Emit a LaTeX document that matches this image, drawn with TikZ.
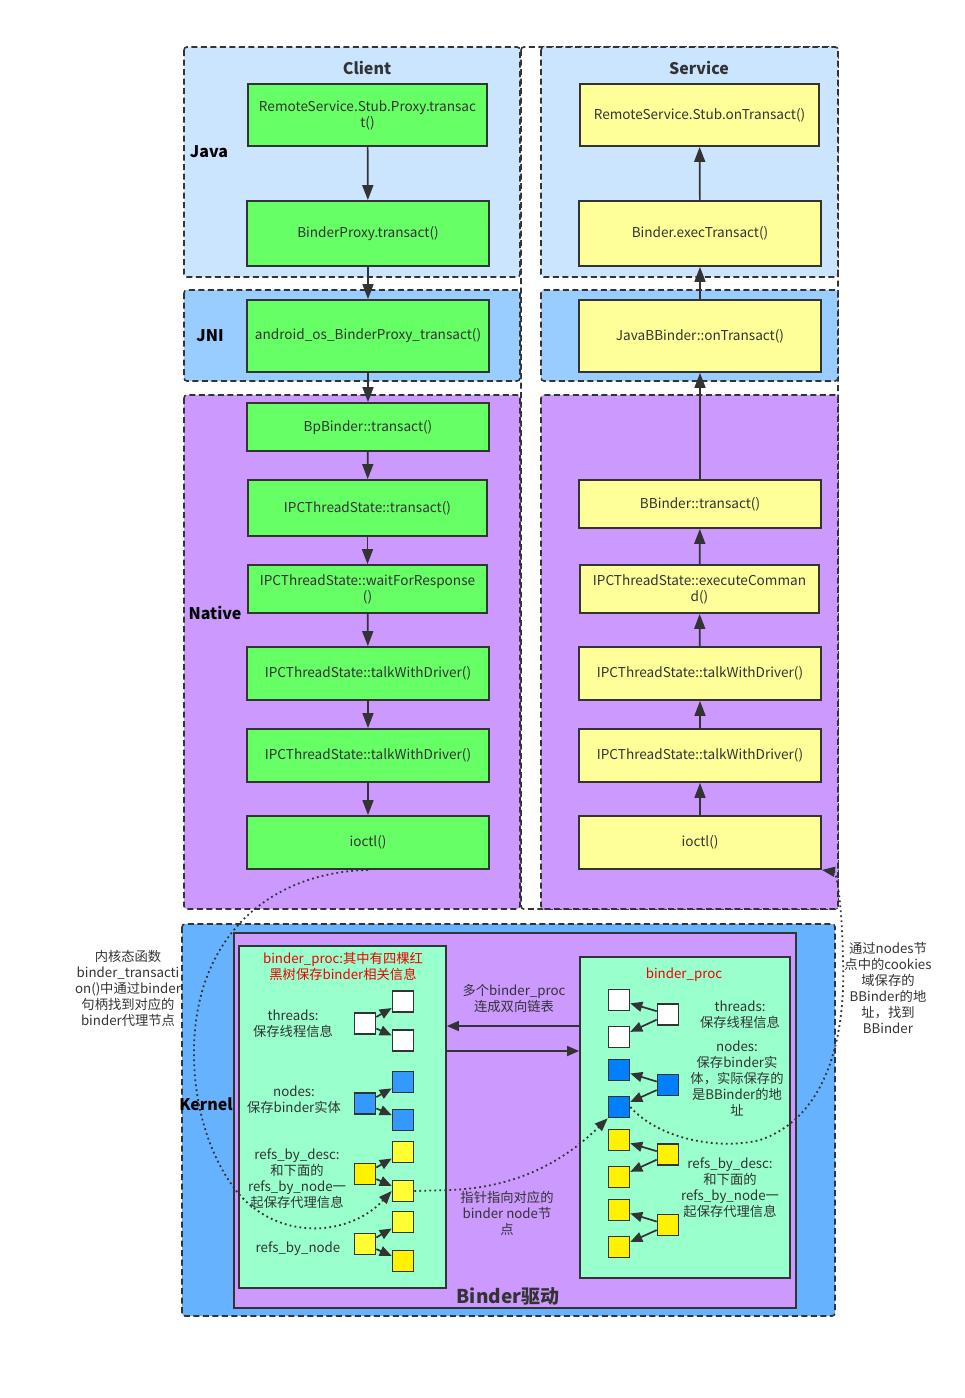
\documentclass[tikz,border=0pt]{standalone}
\usepackage{fontspec}
\setmainfont{Noto Sans CJK SC}
\usetikzlibrary{arrows.meta}
\definecolor{dk}{HTML}{333333}
\definecolor{javabg}{HTML}{CCE5FF}
\definecolor{jnibg}{HTML}{99CCFF}
\definecolor{natbg}{HTML}{CC99FF}
\definecolor{kerbg}{HTML}{66B2FF}
\definecolor{gfill}{HTML}{66FF66}
\definecolor{yfill}{HTML}{FFFF99}
\definecolor{mint}{HTML}{99FFCC}
\definecolor{sqblue}{HTML}{3399FF}
\definecolor{sqblue2}{HTML}{007FFF}
\definecolor{sqyel}{HTML}{FFFF33}
\definecolor{redtxt}{HTML}{EE0000}
\begin{document}
\begin{tikzpicture}[x=1pt,y=-1pt,
  txt/.style={font=\fontsize{13.3}{16}\selectfont, text=dk, align=center},
  region/.style={draw=dk, line width=1.6pt, dash pattern=on 6pt off 3.5pt, rounded corners=3pt},
  cbox/.style={draw=dk, line width=1.8pt, fill=gfill, txt, font=\fontsize{13.6}{16}\selectfont, inner sep=0pt},
  sbox/.style={draw=dk, line width=1.8pt, fill=yfill, txt, font=\fontsize{13.6}{16}\selectfont, inner sep=0pt},
  sq/.style={draw=dk, line width=1.6pt, minimum size=21pt, inner sep=0pt},
  arr/.style={draw=dk, line width=1.7pt, -{Triangle[length=15pt,width=11pt]}},
  sarr/.style={draw=dk, line width=1.7pt, -{Triangle[length=12pt,width=10pt]}},
  dots/.style={draw=dk, line width=1.8pt, dash pattern=on 1.8pt off 3.2pt, -{Triangle[length=13pt,width=10pt]}},
  lbl/.style={font=\bfseries\fontsize{16}{19}\selectfont, text=black},
  ttl/.style={font=\bfseries\fontsize{16}{19}\selectfont, text=dk},
]
\useasboundingbox (0,0) rectangle (965,1398);

% ---------- upper regions ----------
\draw[region, fill=white] (521,47) rectangle (838,909);
\draw[region, fill=javabg] (184,47) rectangle (520,277);
\draw[region, fill=javabg] (541,47) rectangle (838,277);
\draw[region, fill=jnibg] (184,290) rectangle (520,381);
\draw[region, fill=jnibg] (541,290) rectangle (838,381);
\draw[region, fill=natbg] (184,395) rectangle (520,909);
\draw[region, fill=natbg] (541,395) rectangle (838,909);

\node[ttl] (tclient) at (367,68) {Client};
\node[ttl] (tservice) at (699,68) {Service};
\node[lbl] (ljava) at (209,152) {Java};
\node[lbl] (ljni) at (210,336) {JNI};
\node[lbl] (lnative) at (215,613) {Native};

% ---------- client boxes ----------
\node[cbox, line width=2.4pt, minimum width=239pt, minimum height=62pt] (c1) at (367.5,115) {RemoteService.Stub.Proxy.transac\\t()};
\node[cbox, minimum width=242pt, minimum height=65pt] (c2) at (368,233.5) {BinderProxy.transact()};
\node[cbox, minimum width=242pt, minimum height=72pt] (c3) at (368,336) {android\_os\_BinderProxy\_transact()};
\node[cbox, minimum width=242pt, minimum height=48pt] (c4) at (368,427) {BpBinder::transact()};
\node[cbox, minimum width=239pt, minimum height=56pt] (c5) at (367.5,508) {IPCThreadState::transact()};
\node[cbox, minimum width=239pt, minimum height=48pt] (c6) at (367.5,589) {IPCThreadState::waitForResponse\\()};
\node[cbox, minimum width=242pt, minimum height=53pt] (c7) at (368,673.5) {IPCThreadState::talkWithDriver()};
\node[cbox, minimum width=242pt, minimum height=53pt] (c8) at (368,755.5) {IPCThreadState::talkWithDriver()};
\node[cbox, minimum width=242pt, minimum height=53pt] (c9) at (368,842.5) {ioctl()};

\foreach \a/\b in {c1/c2,c2/c3,c3/c4,c4/c5,c5/c6,c6/c7,c7/c8,c8/c9}
  \draw[arr] (\a) -- (\b);

% ---------- service boxes ----------
\node[sbox, minimum width=239pt, minimum height=62pt] (s1) at (699.5,115) {RemoteService.Stub.onTransact()};
\node[sbox, minimum width=242pt, minimum height=65pt] (s2) at (700,233.5) {Binder.execTransact()};
\node[sbox, minimum width=242pt, minimum height=72pt] (s3) at (700,336) {JavaBBinder::onTransact()};
\node[sbox, minimum width=242pt, minimum height=48pt] (s4) at (700,504) {BBinder::transact()};
\node[sbox, minimum width=239pt, minimum height=48pt] (s5) at (699.5,589) {IPCThreadState::executeComman\\d()};
\node[sbox, minimum width=242pt, minimum height=53pt] (s6) at (700,673.5) {IPCThreadState::talkWithDriver()};
\node[sbox, minimum width=242pt, minimum height=53pt] (s7) at (700,755.5) {IPCThreadState::talkWithDriver()};
\node[sbox, minimum width=242pt, minimum height=53pt] (s8) at (700,842.5) {ioctl()};

\foreach \a/\b in {s2/s1,s3/s2,s4/s3,s5/s4,s6/s5,s7/s6,s8/s7}
  \draw[arr] (\a) -- (\b);

% ---------- side annotations ----------
\node[txt] (noteL) at (128,988) {内核态函数\\binder\_transacti\\on()中通过binder\\句柄找到对应的\\binder代理节点};
\node[txt] (noteR) at (888,988) {通过nodes节\\点中的cookies\\域保存的\\BBinder的地\\址，找到\\BBinder};

% ---------- kernel ----------
\draw[region, fill=kerbg] (182,924) rectangle (835,1316);
\draw[draw=dk, line width=1.8pt, fill=natbg] (234,933) rectangle (796,1308);
\node[draw=dk, line width=1.8pt, fill=mint, minimum width=207pt, minimum height=342pt, inner sep=0pt] (lg) at (342.5,1117) {};
\node[draw=dk, line width=1.8pt, fill=mint, minimum width=210pt, minimum height=321pt, inner sep=0pt] (rg) at (685,1117.5) {};
\node[lbl] (lkernel) at (206,1104) {Kernel};
\node[ttl, font=\bfseries\fontsize{19}{22}\selectfont] (ldrv) at (508,1296) {Binder驱动};

% links between procs
\coordinate (ya) at (0,1026);
\coordinate (yb) at (0,1051);
\draw[sarr] (rg.west |- ya) -- (lg.east |- ya);
\draw[sarr] (lg.east |- yb) -- (rg.west |- yb);
\node[txt] (tlink) at (514,998) {多个binder\_proc\\连成双向链表};
\node[txt] (tptr) at (507,1213) {指针指向对应的\\binder node节\\点};

% left proc texts
\node[txt, text=redtxt] (lp) at (343,966) {binder\_proc:其中有四棵红\\黑树保存binder相关信息};
\node[txt] (lt1) at (293,1024) {threads:\\保存线程信息};
\node[txt] (lt2) at (294,1100) {nodes:\\保存binder实体};
\node[txt] (lt3) at (297,1179) {refs\_by\_desc:\\和下面的\\refs\_by\_node一\\起保存代理信息};
\node[txt] (lt4) at (298,1249) {refs\_by\_node};

% left squares
\node[sq, fill=white] (lp1) at (365,1023.5) {};
\node[sq, fill=white] (lc1a) at (403,1001.5) {};
\node[sq, fill=white] (lc1b) at (403,1040.5) {};
\node[sq, fill=sqblue] (lp2) at (365,1103.5) {};
\node[sq, fill=sqblue] (lc2a) at (403,1082) {};
\node[sq, fill=sqblue] (lc2b) at (403,1120) {};
\node[sq, fill=yellow] (lp3) at (365,1174) {};
\node[sq, fill=sqyel] (lc3a) at (403,1152) {};
\node[sq, fill=sqyel] (lc3b) at (403,1191) {};
\node[sq, fill=sqyel] (lp4) at (365,1244) {};
\node[sq, fill=sqyel] (lc4a) at (403,1222) {};
\node[sq, fill=yellow] (lc4b) at (403,1261) {};
\foreach \p/\c in {lp1/lc1a,lp1/lc1b,lp2/lc2a,lp2/lc2b,lp3/lc3a,lp3/lc3b,lp4/lc4a,lp4/lc4b}
  \draw[sarr] (\p) -- (\c);

% right proc texts
\node[txt, text=redtxt] (rp) at (684,975) {binder\_proc};
\node[txt] (rt1) at (740,1015) {threads:\\保存线程信息};
\node[txt] (rt2) at (737,1078) {nodes:\\保存binder实\\体，实际保存的\\是BBinder的地\\址};
\node[txt] (rt3) at (730,1188) {refs\_by\_desc:\\和下面的\\refs\_by\_node一\\起保存代理信息};

% right squares
\node[sq, fill=white] (rc1a) at (619,1000) {};
\node[sq, fill=white] (rc1b) at (619,1037) {};
\node[sq, fill=white] (rp1) at (668,1014.5) {};
\node[sq, fill=sqblue2] (rc2a) at (619,1070) {};
\node[sq, fill=sqblue2] (rc2b) at (619,1107) {};
\node[sq, fill=sqblue2] (rp2) at (668,1085) {};
\node[sq, fill=yellow] (rc3a) at (619,1140) {};
\node[sq, fill=yellow] (rc3b) at (619,1177) {};
\node[sq, fill=yellow] (rp3) at (668,1154.5) {};
\node[sq, fill=yellow] (rc4a) at (619,1210) {};
\node[sq, fill=yellow] (rc4b) at (619,1247) {};
\node[sq, fill=yellow] (rp4) at (668,1225) {};
\foreach \p/\c in {rp1/rc1a,rp1/rc1b,rp2/rc2a,rp2/rc2b,rp3/rc3a,rp3/rc3b,rp4/rc4a,rp4/rc4b}
  \draw[sarr] (\p) -- (\c);

% ---------- dotted curves ----------
\draw[dots] (c9.south) .. controls (290,872) and (228,912) .. (204,985)
  .. controls (183,1050) and (195,1140) .. (238,1193)
  .. controls (280,1242) and (350,1236) .. (lc3b.west);
\draw[dots] (lc3b.east) -- (450,1190) .. controls (530,1187) and (575,1150) .. (rc2b.south west);
\draw[dots] (rc2b.east) .. controls (660,1140) and (720,1150) .. (760,1140)
  .. controls (825,1118) and (846,1040) .. (843,960)
  .. controls (842,900) and (836,872) .. (s8.south east);
\end{tikzpicture}
\end{document}
